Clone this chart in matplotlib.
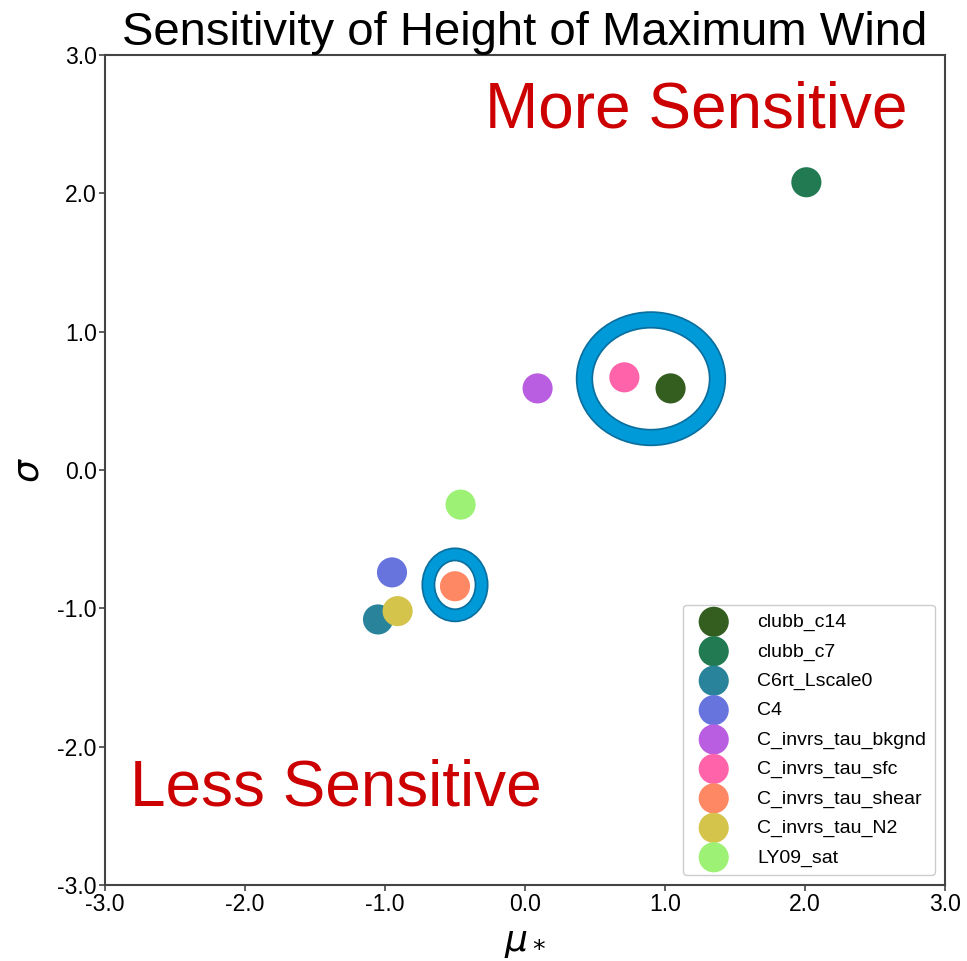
import matplotlib
matplotlib.use('Agg')
import matplotlib.pyplot as plt
from matplotlib.patches import Ellipse
from matplotlib.ticker import FormatStrFormatter

names = ['clubb_c14', 'clubb_c7', 'C6rt_Lscale0', 'C4', 'C_invrs_tau_bkgnd',
         'C_invrs_tau_sfc', 'C_invrs_tau_shear', 'C_invrs_tau_N2', 'LY09_sat']
mu_star = [1.04, 2.01, -1.05, -0.95, 0.09, 0.71, -0.50, -0.91, -0.46]
sigma = [0.59, 2.08, -1.08, -0.74, 0.59, 0.67, -0.84, -1.02, -0.25]
colors = ['#335e20', '#217a52', '#29839a', '#6874dd', '#ba5ee1',
          '#ff63aa', '#ff8864', '#d5c44c', '#9df275']

# highlighted groups: (center x, center y, width, height)
rings = [(0.90, 0.66, 0.95, 0.85), (-0.50, -0.83, 0.38, 0.44)]
ring_lw = [12.5, 10.0]

plt.rcParams['font.family'] = ['Liberation Sans', 'DejaVu Sans']
plt.rcParams['axes.unicode_minus'] = False

fig = plt.figure(figsize=(9.67, 9.61), dpi=100)
ax = fig.add_axes([0.1086, 0.079, 0.8686, 0.8638])

for n, x, y, c in zip(names, mu_star, sigma, colors):
    ax.scatter(x, y, s=470, color=c, label=n, zorder=3, edgecolors='none')

for (cx, cy, w, h), lw in zip(rings, ring_lw):
    ax.add_patch(Ellipse((cx, cy), w, h, fill=False, edgecolor='#0a6f9e', lw=lw, zorder=2))
    ax.add_patch(Ellipse((cx, cy), w, h, fill=False, edgecolor='#009ad9', lw=lw - 2.5, zorder=2))

ax.set_xlim(-3, 3)
ax.set_ylim(-3, 3)
ax.set_xticks([-3, -2, -1, 0, 1, 2, 3])
ax.set_yticks([-3, -2, -1, 0, 1, 2, 3])
ax.xaxis.set_major_formatter(FormatStrFormatter('%.1f'))
ax.yaxis.set_major_formatter(FormatStrFormatter('%.1f'))
ax.tick_params(labelsize=16.5, length=4, width=1.2, color='#444444', pad=2)
for sp in ax.spines.values():
    sp.set_color('#444444')
    sp.set_linewidth(1.5)

ax.set_xlabel(r'$\mu_*$', fontsize=26, labelpad=6)
ax.set_ylabel(r'$\sigma$', fontsize=26, labelpad=8)
ax.set_title('Sensitivity of Height of Maximum Wind', fontsize=34, pad=3)

ax.text(2.73, 2.6, 'More Sensitive', color='#cc0000', fontsize=46, ha='right', va='center')
ax.text(-2.82, -2.3, 'Less Sensitive', color='#cc0000', fontsize=46, ha='left', va='center')

ax.legend(loc='lower right', fontsize=14, markerscale=1.0, labelspacing=0.6,
          handletextpad=1.1, borderpad=0.45, handlelength=2.3, framealpha=1,
          edgecolor='#cccccc', borderaxespad=0.5)

fig.savefig('out.png', dpi=100)
